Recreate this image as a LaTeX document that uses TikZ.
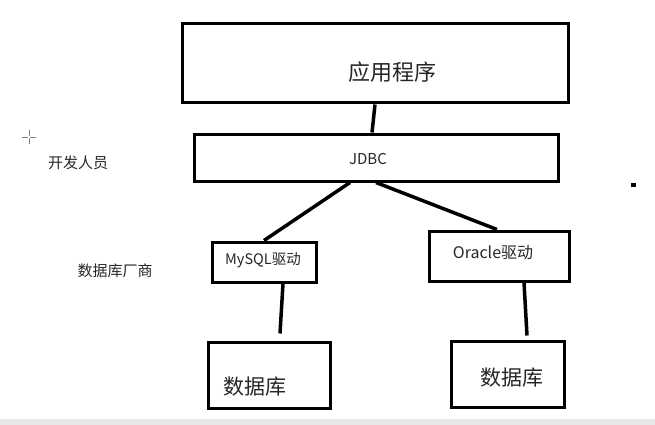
\documentclass[tikz,border=0pt]{standalone}
\usepackage{fontspec}
\setmainfont{Noto Sans CJK SC}
\begin{document}
\begin{tikzpicture}[x=1pt,y=-1pt,
  box/.style={draw=black,line width=3pt,rectangle,inner sep=0pt},
  conn/.style={line width=3.5pt,black},
  lbl/.style={inner sep=0pt,text=black!85}]
\useasboundingbox (0,0) rectangle (655,425);
\fill[white] (0,0) rectangle (655,425);
% bottom window band
\fill[gray!18] (0,419) rectangle (655,425);
% boxes
\node[box,minimum width=386pt,minimum height=79pt] (app) at (375,63.5) {};
\node[box,minimum width=364pt,minimum height=47pt] (jdbc) at (376,157.5) {};
\node[box,minimum width=104pt,minimum height=40pt] (mysql) at (264,262) {};
\node[box,minimum width=140pt,minimum height=50pt] (oracle) at (499,256) {};
\node[box,minimum width=122pt,minimum height=66pt] (db1) at (269,375) {};
\node[box,minimum width=113pt,minimum height=66pt] (db2) at (507.5,374) {};
% texts
\node[lbl,font=\fontsize{22}{24}\selectfont] (tapp) at (392,72) {应用程序};
\node[lbl,font=\fontsize{15}{17}\selectfont] (tjdbc) at (368,159) {JDBC};
\node[lbl,font=\fontsize{14.5}{16}\selectfont] (tmysql) at (263,260) {MySQL驱动};
\node[lbl,font=\fontsize{16}{18}\selectfont] (toracle) at (493,253) {Oracle驱动};
\node[lbl,font=\fontsize{21}{23}\selectfont] (tdb1) at (255,387) {数据库};
\node[lbl,font=\fontsize{21}{23}\selectfont] (tdb2) at (512,378) {数据库};
\node[lbl,font=\fontsize{15}{17}\selectfont] (dev) at (78,163) {开发人员};
\node[lbl,font=\fontsize{15}{17}\selectfont] (vendor) at (115,271) {数据库厂商};
% connectors
\draw[conn] (app.south) -- ([xshift=-4pt]jdbc.north);
\draw[conn] ([xshift=-26pt]jdbc.south) -- (mysql.north);
\draw[conn] (jdbc.south) -- ([xshift=-2pt]oracle.north);
\coordinate (e1) at ([xshift=11pt,yshift=7pt]db1.north);
\coordinate (e2) at ([xshift=19.5pt,yshift=4pt]db2.north);
\draw[conn] ([xshift=19pt]mysql.south) -- (e1);
\draw[conn] ([xshift=25pt]oracle.south) -- (e2);
% cursor crosshair
\draw[gray,line width=0.8pt] (22,137) -- (36,137) (29,130) -- (29,144);
\fill[white] (29,137) circle (1.5);
% small dot
\fill[black] (631,183) rectangle (636,187);
\end{tikzpicture}
\end{document}
